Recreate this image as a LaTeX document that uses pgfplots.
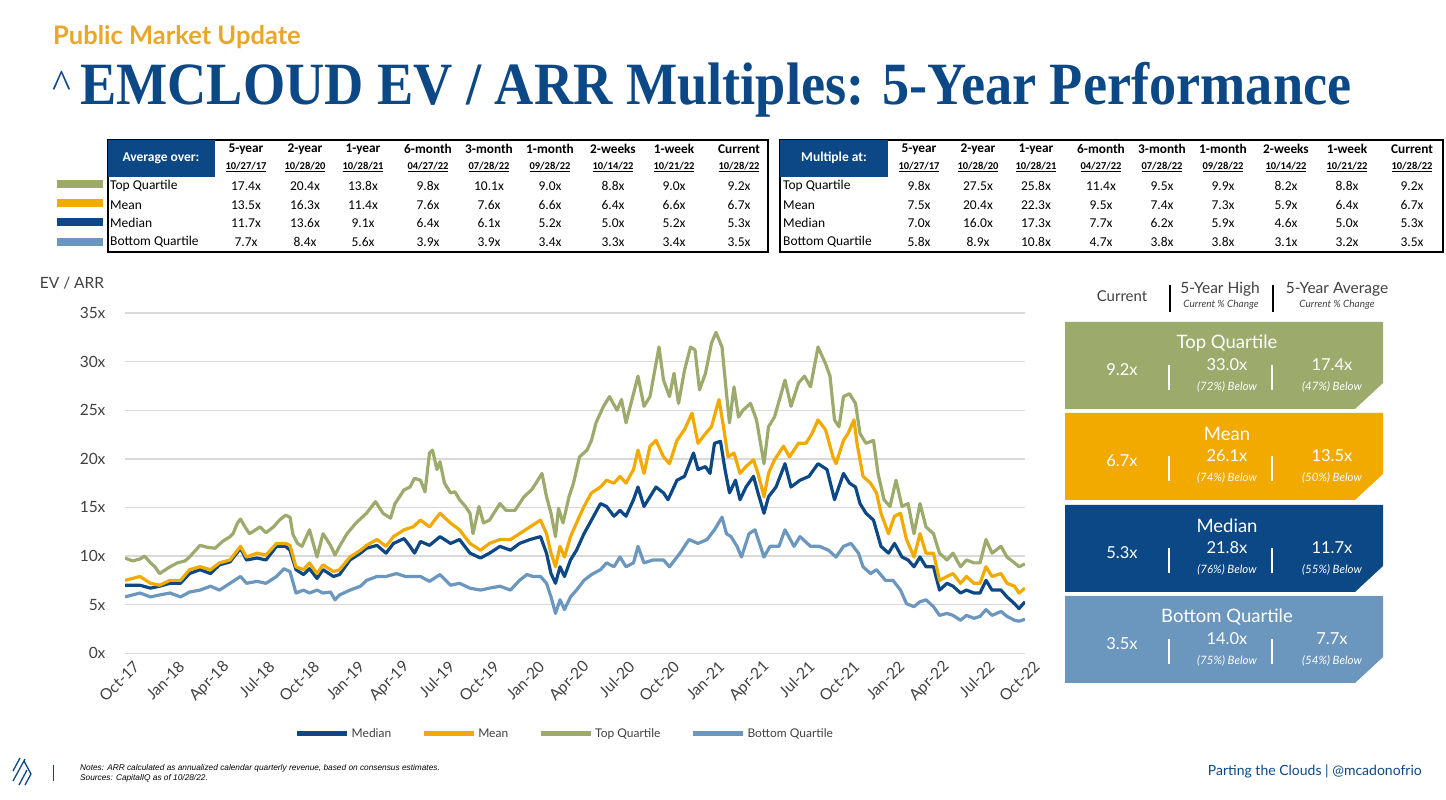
\documentclass[border=0pt]{standalone}
\usepackage{pgfplots}
\pgfplotsset{compat=1.18}
\usepackage{fontspec}
\setmainfont{Carlito}
\newfontfamily\lato{Lato}
\newfontfamily\titlefont{Liberation Serif}
\newfontfamily\arial{Liberation Sans}
\definecolor{medc}{HTML}{0B4885}
\definecolor{meanc}{HTML}{F2A900}
\definecolor{tqc}{HTML}{9CAA6C}
\definecolor{bqc}{HTML}{6B96BD}
\definecolor{goldc}{HTML}{E9A628}
\definecolor{tickc}{HTML}{404040}
\definecolor{gridc}{HTML}{D9D9D9}

\newcommand\trow[4]{% #1 x offset, #2 y, #3 font, #4 list
  \foreach \v [count=\i] in {#4} {
    \pgfmathsetmacro\cx{{246,305,363,428,489,550,613,674,739}[\i-1]+#1}
    \node[font=#3, inner sep=0pt] at (\cx,#2) {\v};
  }}
\newcommand\qbox[8]{%
  \fill[#1] (1065,#2) -- (1383,#2) -- (1383,#2+61) -- (1355,#2+87) -- (1065,#2+87) -- cycle;
  \node[white, font=\lato\fontsize{18.5}{20}\selectfont] at (1227,#2+21) {#3};
  \node[white, font=\lato\fontsize{16.5}{18}\selectfont] at (1122,#2+48) {#4};
  \draw[white, line width=1.6pt] (1169,#2+43) -- (1169,#2+68);
  \node[white, font=\lato\fontsize{16.5}{18}\selectfont] at (1227,#2+43) {#5};
  \node[white, font=\lato\itshape\fontsize{11.5}{12}\selectfont] at (1227,#2+65) {#6};
  \draw[white, line width=1.6pt] (1272,#2+43) -- (1272,#2+68);
  \node[white, font=\lato\fontsize{16.5}{18}\selectfont] at (1332,#2+43) {#7};
  \node[white, font=\lato\itshape\fontsize{11.5}{12}\selectfont] at (1332,#2+65) {#8};
}

\begin{document}
\begin{tikzpicture}[x=1pt,y=1pt]
\path[use as bounding box] (0,0) rectangle (1446,800);

\begin{axis}[
  at={(125pt,146.7pt)}, anchor=south west,
  scale only axis, width=900pt, height=340.3pt,
  xmin=0, xmax=60, ymin=0, ymax=35,
  axis line style={draw=none}, major tick length=0pt,
  ymajorgrids, grid style={color=gridc, line width=1.4pt},
  ytick={0,5,...,35},
  yticklabel={\pgfmathprintnumber{\tick}x},
  xtick={0,3,...,60},
  xticklabels={Oct-17,Jan-18,Apr-18,Jul-18,Oct-18,Jan-19,Apr-19,Jul-19,Oct-19,Jan-20,Apr-20,Jul-20,Oct-20,Jan-21,Apr-21,Jul-21,Oct-21,Jan-22,Apr-22,Jul-22,Oct-22},
  /pgf/number format/assume math mode=true,
  ticklabel style={font=\lato\fontsize{15.5}{17}\selectfont, text=tickc},
  yticklabel style={anchor=east, xshift=-16pt},
  xticklabel style={rotate=45, anchor=east, xshift=4pt, yshift=-16pt},
  legend columns=4,
  legend style={at={(0.185,-0.237)}, anchor=west, draw=none, fill=none,
    font=\lato\fontsize{12}{14}\selectfont, text=tickc,
    /tikz/every even column/.append style={column sep=28pt}},
  legend image code/.code={\draw[#1, line width=5pt] (0pt,0pt) -- (50pt,0pt);},
  every axis plot/.append style={line width=3.2pt, line join=round},
]
\addplot[medc] coordinates {(0,7.0)(1,7.0)(1.7,6.7)(2.3,6.9)(3,7.2)(3.7,7.2)(4.3,8.2)(5,8.6)(5.7,8.2)(6.3,9.1)(7,9.4)(7.7,10.8)(8.1,9.6)(8.8,9.8)(9.4,9.6)(10.1,11.0)(10.7,11.0)(11,10.6)(11.4,8.6)(11.9,8.1)(12.3,8.7)(12.8,7.7)(13.2,8.6)(13.9,7.9)(14.3,8.1)(15,9.6)(15.7,10.3)(16.1,10.8)(16.8,11.1)(17.4,10.3)(17.9,11.3)(18.6,11.8)(19,11.0)(19.3,10.3)(19.7,11.5)(20.3,11.1)(21,12.0)(21.7,11.3)(22.3,11.7)(23,10.3)(23.7,9.8)(24.3,10.3)(25,11.0)(25.7,10.6)(26.3,11.3)(27,11.7)(27.7,12.0)(28.1,10.3)(28.4,8.2)(28.7,7.2)(29,8.9)(29.3,7.9)(29.7,9.6)(30.1,10.6)(30.6,12.3)(31.1,13.7)(31.7,15.4)(32.1,15.1)(32.6,14.1)(33,14.7)(33.4,14.1)(33.9,15.8)(34.2,17.1)(34.6,15.1)(35,16.1)(35.4,17.1)(35.9,16.5)(36.2,15.8)(36.8,17.8)(37.3,18.2)(37.9,20.6)(38.2,18.9)(38.7,19.2)(39,18.5)(39.3,21.6)(39.7,21.8)(40,18.9)(40.3,16.5)(40.7,17.8)(41,15.8)(41.4,17.1)(41.9,18.2)(42.2,16.5)(42.6,14.4)(42.9,16.1)(43.4,17.1)(44,19.5)(44.4,17.1)(45,17.8)(45.6,18.2)(46.2,19.5)(46.8,18.9)(47.3,15.8)(47.9,18.5)(48.3,17.5)(48.7,17.1)(49,15.4)(49.4,14.4)(49.9,13.7)(50.4,11.0)(50.9,10.3)(51.3,11.3)(51.8,9.9)(52.2,9.6)(52.6,8.9)(53,9.9)(53.4,8.9)(53.9,8.9)(54.3,6.5)(54.8,7.2)(55.2,6.9)(55.7,6.2)(56.1,6.5)(56.6,6.2)(57,6.2)(57.4,7.5)(57.8,6.5)(58.4,6.5)(58.8,5.8)(59.3,5.1)(59.6,4.6)(60,5.3)};
\addlegendentry{Median}
\addplot[meanc] coordinates {(0,7.5)(1,7.9)(1.7,7.2)(2.3,7.0)(3,7.5)(3.7,7.5)(4.3,8.6)(5,8.9)(5.7,8.6)(6.3,9.3)(7,9.6)(7.7,11.0)(8.1,9.9)(8.8,10.3)(9.4,10.1)(10.1,11.3)(10.7,11.3)(11,11.1)(11.4,8.9)(11.9,8.6)(12.3,9.3)(12.8,8.2)(13.2,9.1)(13.9,8.4)(14.3,8.6)(15,9.9)(15.7,10.6)(16.1,11.1)(16.8,11.7)(17.4,11.0)(17.9,12.0)(18.6,12.7)(19.2,13.0)(19.7,13.7)(20.3,13.0)(21,14.4)(21.7,13.4)(22.3,12.7)(23,11.3)(23.7,10.6)(24.3,11.3)(25,11.7)(25.7,11.7)(26.3,12.3)(27,13.0)(27.7,13.7)(28.1,12.3)(28.4,10.3)(28.7,8.9)(29,11.0)(29.3,9.9)(29.7,12.0)(30.1,13.4)(30.6,15.1)(31.1,16.5)(31.7,17.1)(32.1,17.8)(32.6,17.5)(33,18.2)(33.4,17.5)(33.9,18.9)(34.2,20.9)(34.6,18.5)(35,21.3)(35.4,21.9)(35.9,20.2)(36.3,19.5)(36.8,21.9)(37.3,23.0)(37.8,24.7)(38.2,21.6)(38.7,22.6)(39.1,23.3)(39.4,25.0)(39.6,26.1)(39.9,23.3)(40.2,20.2)(40.6,20.6)(41,18.5)(41.4,19.2)(41.9,19.9)(42.2,18.5)(42.6,16.1)(42.9,18.5)(43.3,19.9)(43.9,21.3)(44.3,20.2)(44.9,21.6)(45.4,21.6)(45.8,22.6)(46.2,24.0)(46.7,23.0)(47.2,20.2)(47.4,19.5)(47.9,21.9)(48.2,22.6)(48.6,24.0)(48.8,21.6)(49.2,18.2)(49.7,17.5)(50.1,16.5)(50.4,14.4)(50.9,12.3)(51.3,14.1)(51.7,14.4)(52.1,11.7)(52.6,9.9)(53,12.3)(53.4,10.3)(53.9,10.3)(54.3,7.5)(54.8,7.9)(55.2,8.2)(55.7,7.2)(56.1,7.9)(56.6,7.2)(57,7.2)(57.4,8.9)(57.8,7.9)(58.4,8.2)(58.8,7.2)(59.3,6.9)(59.6,6.2)(60,6.7)};
\addlegendentry{Mean}
\addplot[tqc] coordinates {(0,9.8)(0.5,9.5)(1,9.7)(1.3,10.0)(1.7,9.3)(2,8.9)(2.3,8.2)(2.7,8.6)(3,8.9)(3.5,9.3)(4,9.5)(4.3,9.9)(5,11.1)(5.5,10.9)(6,10.8)(6.5,11.5)(7,12.0)(7.2,12.3)(7.5,13.4)(7.7,13.8)(8,13.0)(8.3,12.3)(9,13.0)(9.4,12.4)(9.9,13.0)(10.3,13.7)(10.7,14.2)(11,14.0)(11.2,12.2)(11.5,11.3)(11.8,11.0)(12.3,12.7)(12.8,9.9)(13.2,12.3)(13.7,11.1)(14,10.1)(14.3,11.0)(14.8,12.3)(15.4,13.4)(16.1,14.4)(16.7,15.6)(17.2,14.4)(17.7,13.9)(18,15.4)(18.6,16.8)(19,17.1)(19.3,18.0)(19.7,17.8)(20,16.6)(20.3,20.6)(20.5,20.9)(20.8,18.9)(21,19.7)(21.3,17.5)(21.7,16.5)(22,16.6)(22.3,15.8)(22.7,15.1)(23,14.4)(23.2,12.3)(23.6,15.1)(23.9,13.4)(24.3,13.7)(25,15.4)(25.4,14.7)(26,14.7)(26.6,16.1)(27.1,16.8)(27.4,17.5)(27.8,18.5)(28.1,16.1)(28.4,14.4)(28.7,12.0)(28.9,14.9)(29.2,13.4)(29.6,16.1)(29.9,17.5)(30.3,20.2)(30.8,20.9)(31.1,21.9)(31.4,23.7)(31.9,25.4)(32.3,26.4)(32.8,25.0)(33.1,26.1)(33.4,23.7)(33.9,26.7)(34.2,28.5)(34.6,25.4)(35,26.4)(35.6,31.5)(35.9,28.1)(36.3,26.4)(36.6,28.8)(36.9,25.7)(37.3,29.1)(37.7,31.5)(38,31.2)(38.3,27.1)(38.7,28.8)(39.1,31.9)(39.4,33.0)(39.8,31.5)(40.1,26.7)(40.3,23.7)(40.6,27.4)(40.9,24.3)(41.2,25.0)(41.7,25.7)(42.1,24.0)(42.6,19.5)(42.9,23.3)(43.3,24.3)(44,28.1)(44.4,25.4)(44.9,27.8)(45.3,28.5)(45.7,27.4)(46.2,31.5)(46.7,29.8)(47,28.5)(47.3,24.0)(47.6,23.3)(47.9,26.4)(48.3,26.7)(48.7,25.7)(49,22.6)(49.4,21.6)(49.9,21.9)(50.2,18.5)(50.6,15.8)(51,15.1)(51.4,17.8)(51.8,15.1)(52.2,15.4)(52.6,12.3)(53,15.4)(53.4,13.0)(53.9,12.3)(54.3,10.3)(54.8,9.6)(55.2,10.3)(55.7,8.9)(56.1,9.6)(56.6,9.3)(57,9.3)(57.4,11.7)(57.8,10.3)(58.4,11.0)(58.8,9.9)(59.3,9.3)(59.6,8.9)(60,9.2)};
\addlegendentry{Top Quartile}
\addplot[bqc] coordinates {(0,5.8)(1,6.2)(1.7,5.8)(2.3,6.0)(3,6.2)(3.7,5.8)(4.3,6.3)(5,6.5)(5.7,6.9)(6.3,6.5)(7,7.2)(7.7,7.9)(8.1,7.2)(8.8,7.4)(9.4,7.2)(10.1,7.9)(10.6,8.7)(11,8.4)(11.4,6.2)(11.9,6.5)(12.3,6.2)(12.8,6.5)(13.2,6.2)(13.7,6.3)(14,5.5)(14.3,6.0)(15,6.5)(15.7,6.9)(16.1,7.5)(16.8,7.9)(17.4,7.9)(18.1,8.2)(18.7,7.9)(19.7,7.9)(20.3,7.4)(21,8.1)(21.7,7.0)(22.3,7.2)(23,6.7)(23.7,6.5)(24.3,6.7)(25,6.9)(25.7,6.5)(26.3,7.5)(26.8,8.1)(27.2,7.9)(27.7,7.9)(28.1,7.2)(28.4,5.8)(28.7,4.1)(29,5.5)(29.3,4.5)(29.7,5.8)(30.1,6.5)(30.6,7.5)(31.1,8.1)(31.7,8.6)(32.1,9.3)(32.6,8.9)(33,9.9)(33.4,8.9)(33.9,9.3)(34.2,11.0)(34.6,9.3)(35.2,9.6)(35.9,9.6)(36.3,8.9)(37,10.3)(37.6,11.7)(38.2,11.3)(38.8,11.7)(39.3,12.7)(39.8,14.0)(40.1,12.3)(40.4,12.0)(40.8,11.0)(41.1,9.9)(41.6,12.3)(42,12.7)(42.6,9.9)(43,11.0)(43.6,11.0)(44,12.7)(44.6,11.0)(45,12.0)(45.7,11.0)(46.3,11.0)(46.9,10.6)(47.4,9.9)(47.9,11.0)(48.4,11.3)(48.9,10.3)(49.2,8.9)(49.7,8.2)(50.1,8.6)(50.7,7.5)(51.2,7.5)(51.7,6.5)(52.1,5.1)(52.6,4.8)(53,5.3)(53.4,5.5)(53.9,4.8)(54.3,3.9)(54.8,4.1)(55.2,3.9)(55.7,3.4)(56.1,3.9)(56.6,3.6)(57,3.8)(57.4,4.5)(57.8,3.9)(58.4,4.3)(58.8,3.8)(59.3,3.4)(59.6,3.3)(60,3.5)};
\addlegendentry{Bottom Quartile}
\end{axis}

\begin{scope}[y=-1pt, yshift=800pt]
% header
\node[anchor=base west, inner sep=0pt, text=goldc, font=\lato\bfseries\fontsize{25.5}{30}\selectfont] at (53,45) {Public Market Update};
\node[anchor=base west, inner sep=0pt, text=medc, font=\titlefont\fontsize{40}{40}\selectfont] at (52,98) {\textasciicircum};
\node[anchor=base west, inner sep=0pt, text=medc] at (80,105) {\scalebox{0.905}[1]{\titlefont\bfseries\fontsize{60}{60}\selectfont EMCLOUD EV / ARR Multiples: 5-Year Performance}};

% left table
\draw[black, line width=1.1pt] (108,140) rectangle (768,252);
\fill[medc] (108,140) rectangle (215,177);
\node[white, font=\bfseries\fontsize{13.5}{15}\selectfont] at (161,158) {Average over:};
\trow{0}{149}{\bfseries\fontsize{13.3}{14}\selectfont}{5-year,2-year,1-year,6-month,3-month,1-month,2-weeks,1-week,Current}
\trow{0}{167}{\bfseries\fontsize{10.5}{12}\selectfont}{\underline{10/27/17},\underline{10/28/20},\underline{10/28/21},\underline{04/27/22},\underline{07/28/22},\underline{09/28/22},\underline{10/14/22},\underline{10/21/22},\underline{10/28/22}}
\trow{0}{186}{\fontsize{13.5}{14}\selectfont}{17.4x,20.4x,13.8x,9.8x,10.1x,9.0x,8.8x,9.0x,9.2x}
\trow{0}{205}{\fontsize{13.5}{14}\selectfont}{13.5x,16.3x,11.4x,7.6x,7.6x,6.6x,6.4x,6.6x,6.7x}
\trow{0}{223}{\fontsize{13.5}{14}\selectfont}{11.7x,13.6x,9.1x,6.4x,6.1x,5.2x,5.0x,5.2x,5.3x}
\trow{0}{242}{\fontsize{13.5}{14}\selectfont}{7.7x,8.4x,5.6x,3.9x,3.9x,3.4x,3.3x,3.4x,3.5x}
\foreach \yy/\lab in {186/Top Quartile,205/Mean,223/Median,242/Bottom Quartile}
  \node[anchor=west, inner sep=0pt, font=\fontsize{13.5}{14}\selectfont] at (110,\yy) {\lab};
\fill[tqc] (57,180) rectangle (103,188);
\fill[meanc] (57,199) rectangle (103,207);
\fill[medc] (57,218) rectangle (103,226);
\fill[bqc] (57,238) rectangle (103,246);

% right table
\draw[black, line width=1.1pt] (780,140) rectangle (1443,252);
\fill[medc] (780,140) rectangle (888,177);
\node[white, font=\bfseries\fontsize{13.5}{15}\selectfont] at (834,158) {Multiple at:};
\trow{673}{149}{\bfseries\fontsize{13.3}{14}\selectfont}{5-year,2-year,1-year,6-month,3-month,1-month,2-weeks,1-week,Current}
\trow{673}{167}{\bfseries\fontsize{10.5}{12}\selectfont}{\underline{10/27/17},\underline{10/28/20},\underline{10/28/21},\underline{04/27/22},\underline{07/28/22},\underline{09/28/22},\underline{10/14/22},\underline{10/21/22},\underline{10/28/22}}
\trow{673}{186}{\fontsize{13.5}{14}\selectfont}{9.8x,27.5x,25.8x,11.4x,9.5x,9.9x,8.2x,8.8x,9.2x}
\trow{673}{205}{\fontsize{13.5}{14}\selectfont}{7.5x,20.4x,22.3x,9.5x,7.4x,7.3x,5.9x,6.4x,6.7x}
\trow{673}{223}{\fontsize{13.5}{14}\selectfont}{7.0x,16.0x,17.3x,7.7x,6.2x,5.9x,4.6x,5.0x,5.3x}
\trow{673}{242}{\fontsize{13.5}{14}\selectfont}{5.8x,8.9x,10.8x,4.7x,3.8x,3.8x,3.1x,3.2x,3.5x}
\foreach \yy/\lab in {186/Top Quartile,205/Mean,223/Median,242/Bottom Quartile}
  \node[anchor=west, inner sep=0pt, font=\fontsize{13.5}{14}\selectfont] at (783,\yy) {\lab};

% chart label
\node[text=tickc, font=\lato\fontsize{15.5}{17}\selectfont] at (72,283) {EV / ARR};

% right panel header
\node[text=tickc, font=\lato\fontsize{15}{17}\selectfont] at (1122,296) {Current};
\draw[black, line width=1.2pt] (1170,285) -- (1170,312);
\node[text=tickc, font=\lato\fontsize{15.5}{17}\selectfont] at (1220,289) {5-Year High};
\node[text=tickc, font=\lato\itshape\fontsize{10}{11}\selectfont] at (1221,305) {Current \% Change};
\draw[black, line width=1.2pt] (1273,285) -- (1273,312);
\node[text=tickc, font=\lato\fontsize{15.5}{17}\selectfont] at (1337,289) {5-Year Average};
\node[text=tickc, font=\lato\itshape\fontsize{10}{11}\selectfont] at (1337,305) {Current \% Change};

\qbox{tqc}{322}{Top Quartile}{9.2x}{33.0x}{(72\%) Below}{17.4x}{(47\%) Below}
\qbox{meanc}{413}{Mean}{6.7x}{26.1x}{(74\%) Below}{13.5x}{(50\%) Below}
\qbox{medc}{505}{Median}{5.3x}{21.8x}{(76\%) Below}{11.7x}{(55\%) Below}
\qbox{bqc}{596}{Bottom Quartile}{3.5x}{14.0x}{(75\%) Below}{7.7x}{(54\%) Below}

% footer
\draw[medc, line width=1.3pt] (13,771) -- (20,758);
\draw[medc, line width=1.3pt] (13,781) -- (25,759);
\draw[medc, line width=1.3pt] (19,785) -- (27,770);
\draw[medc, line width=1.3pt] (24,761) -- (31,774) -- (25,785);
\draw[medc, line width=1pt] (53,765) -- (53,781);
\node[anchor=west, inner sep=0pt, font=\arial\itshape\fontsize{8.3}{9}\selectfont] at (80,768) {Notes: ARR calculated as annualized calendar quarterly revenue, based on consensus estimates.};
\node[anchor=west, inner sep=0pt, font=\arial\itshape\fontsize{8.3}{9}\selectfont] at (80,778) {Sources: CapitalIQ as of 10/28/22.};
\node[anchor=east, inner sep=0pt, text=medc, font=\lato\fontsize{14}{16}\selectfont] at (1422,771) {Parting the Clouds | @mcadonofrio};
\end{scope}
\end{tikzpicture}
\end{document}
